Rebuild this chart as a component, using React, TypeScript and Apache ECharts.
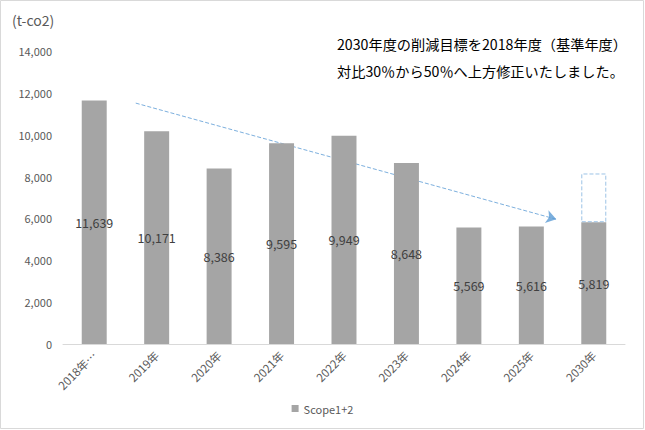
import React, { useEffect, useRef } from "react";
import * as echarts from "echarts";

const categories = ["2018年…", "2019年", "2020年", "2021年", "2022年", "2023年", "2024年", "2025年", "2030年"];
const scopeValues = [11639, 10171, 8386, 9595, 9949, 8648, 5569, 5616, 5819];
// dashed target box above 2030 (30% reduction level 8,147 minus 5,819)
const targetBoxValues = [null, null, null, null, null, null, null, null, 2328];
const yTicks = { min: 0, max: 14000, interval: 2000 };
const arrowStart = [0.665, 11510];
const arrowEnd = [7.4, 5960];
const unitLabel = "(t-co2)";
const noteLines = ["2030年度の削減目標を2018年度（基準年度）", "対比30％から50％へ上方修正いたしました。"];
const seriesName = "Scope1+2";

export default function App() {
  const ref = useRef<HTMLDivElement>(null);
  useEffect(() => {
    if (!ref.current) return;
    const chart = echarts.init(ref.current, null, { renderer: "svg" });
    const font = "'Noto Sans CJK JP', 'Noto Sans', sans-serif";
    chart.setOption({
      animation: false,
      textStyle: { fontFamily: font },
      grid: { left: 63, right: 20, top: 51, bottom: 86, containLabel: false },
      legend: {
        data: [seriesName],
        bottom: 11,
        left: "center",
        itemWidth: 7,
        itemHeight: 7,
        itemGap: 6,
        icon: "rect",
        textStyle: { color: "#595959", fontSize: 11, fontFamily: font },
      },
      xAxis: [
        {
          type: "category",
          data: categories,
          axisLine: { lineStyle: { color: "#d9d9d9" } },
          axisTick: { show: false },
          axisLabel: { rotate: 45, color: "#595959", fontSize: 11.5, margin: 9, interval: 0 },
        },
        { type: "value", min: -0.5, max: 8.5, show: false },
      ],
      yAxis: {
        type: "value",
        min: yTicks.min,
        max: yTicks.max,
        interval: yTicks.interval,
        axisLine: { show: false },
        axisTick: { show: false },
        splitLine: { show: false },
        axisLabel: {
          color: "#595959",
          fontSize: 11,
          margin: 11,
          formatter: (v: number) => v.toLocaleString("en-US"),
        },
      },
      series: [
        {
          name: seriesName,
          type: "bar",
          stack: "total",
          data: scopeValues,
          barWidth: "40%",
          itemStyle: { color: "#a5a5a5" },
          label: {
            show: true,
            position: "inside",
            color: "#404040",
            fontSize: 12.5,
            formatter: (p: any) => Number(p.value).toLocaleString("en-US"),
          },
        },
        {
          name: "target",
          type: "bar",
          stack: "total",
          data: targetBoxValues,
          barWidth: "40%",
          itemStyle: {
            color: "rgba(0,0,0,0)",
            borderColor: "#9dc3e6",
            borderWidth: 1,
            borderType: "dashed",
          },
          silent: true,
        },
        {
          name: "arrow",
          type: "lines",
          coordinateSystem: "cartesian2d",
          xAxisIndex: 1,
          yAxisIndex: 0,
          symbol: ["none", "arrow"],
          symbolSize: 10,
          lineStyle: { color: "#5b9bd5", width: 1, type: "dashed", opacity: 0.8 },
          data: [{ coords: [arrowStart, arrowEnd] }],
          silent: true,
        },
      ],
      graphic: [
        {
          type: "rect",
          shape: { x: 0.5, y: 0.5, width: 643, height: 428 },
          style: { fill: "none", stroke: "#d9d9d9", lineWidth: 1 },
          silent: true,
        },
        {
          type: "text",
          left: 12,
          top: 13,
          style: { text: unitLabel, fill: "#595959", fontSize: 14, fontFamily: font },
        },
        {
          type: "text",
          left: 337,
          top: 37,
          style: { text: noteLines[0], fill: "#000000", fontSize: 14.2, fontFamily: font },
        },
        {
          type: "text",
          left: 337,
          top: 64,
          style: { text: noteLines[1], fill: "#000000", fontSize: 14.2, fontFamily: font },
        },
      ],
    });
    return () => chart.dispose();
  }, []);
  return (
    <div
      ref={ref}
      style={{ position: "fixed", left: 0, top: 0, width: 645, height: 430, background: "#fff" }}
    />
  );
}
